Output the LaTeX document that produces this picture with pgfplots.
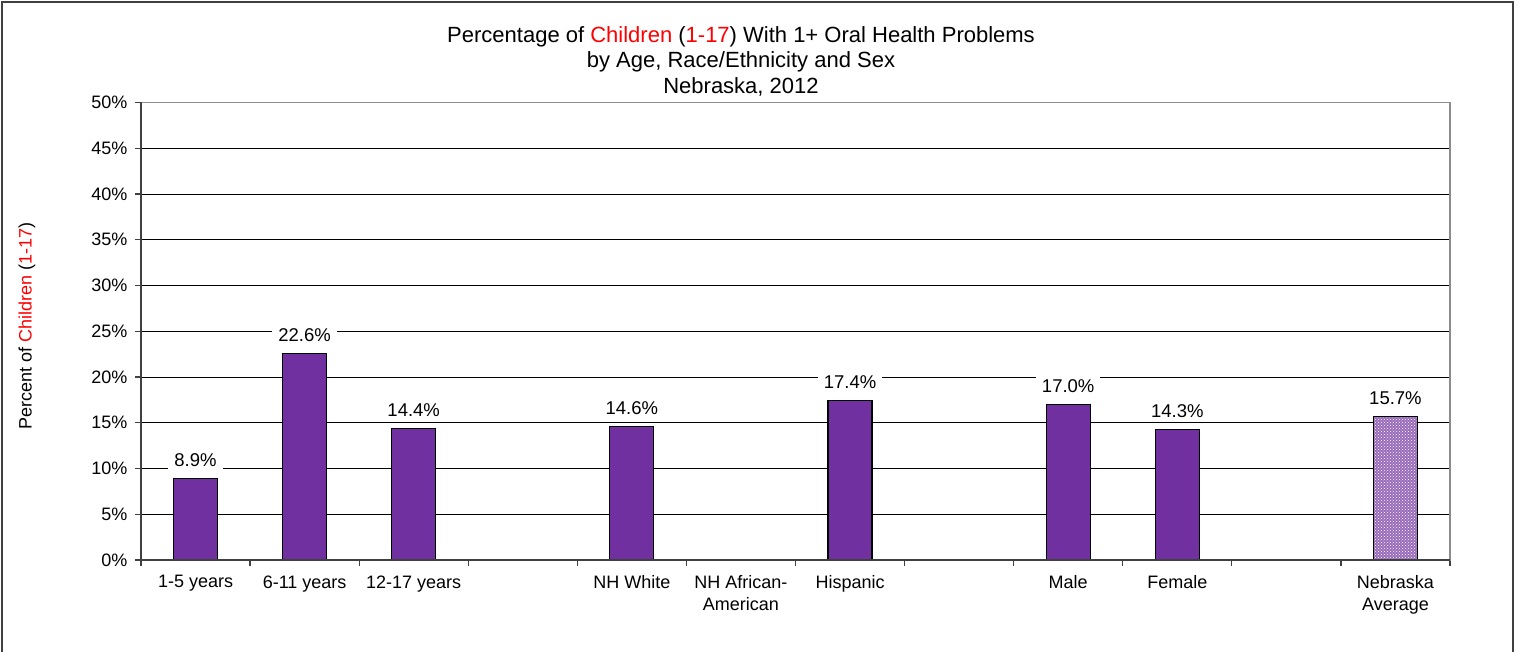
\documentclass[border=0pt]{standalone}
\usepackage{pgfplots}
\pgfplotsset{compat=1.18}
\usepackage{fontspec}
\setmainfont{Liberation Sans}
\usetikzlibrary{patterns}
\definecolor{barpurple}{HTML}{7030A0}
\definecolor{axgray}{HTML}{404040}
\begin{document}
\begin{tikzpicture}[x=1pt,y=1pt]
\begin{axis}[
  at={(141pt,92pt)}, anchor=south west,
  scale only axis, width=1309pt, height=457.5pt,
  xmin=-0.5, xmax=11.5, ymin=0, ymax=50,
  ytick={0,5,...,50},
  yticklabel={\pgfmathprintnumber{\tick}\%},
  /pgf/number format/assume math mode=true,
  xtick={0,...,11},
  xticklabels={1-5 years,6-11 years,12-17 years,{},NH White,{NH African-\\American},Hispanic,{},Male,Female,{},{Nebraska\\Average}},
  minor xtick={-0.5,0.5,...,11.5},
  major x tick style={draw=none},
  minor tick length=6pt, major tick length=6pt,
  tick align=outside, tick pos=left,
  tick style={draw=axgray, line width=1.2pt},
  ymajorgrids, grid style={draw=black, line width=0.9pt},
  axis line style={draw=gray!90, line width=1.2pt},
  ticklabel style={font=\fontsize{18}{21.5}\selectfont},
  xticklabel style={align=center, yshift=-6pt},
  yticklabel style={xshift=-4pt},
  ybar, bar width=44pt,
  nodes near coords={\pgfmathprintnumber[fixed,fixed zerofill,precision=1]{\pgfplotspointmeta}\%},
  every node near coord/.append style={font=\fontsize{18.5}{21}\selectfont, anchor=base, yshift=12pt, fill=white, inner xsep=6pt, inner ysep=3pt, text=black},
  clip=false,
]
\addplot[/pgf/bar shift=0pt, fill=barpurple, draw=black, line width=1.1pt] coordinates {(0,8.9) (1,22.6) (2,14.4) (4,14.6) (6,17.4) (8,17.0) (9,14.3)};
\addplot[/pgf/bar shift=0pt, fill=barpurple!72!white, draw=black, line width=1.1pt, postaction={pattern=crosshatch dots, pattern color=white}] coordinates {(11,15.7)};
\draw[axgray, line width=1.8pt] (rel axis cs:0,1) -- (rel axis cs:0,0) -- (rel axis cs:1,0);
\end{axis}
\node[align=center, font=\fontsize{22}{25.5}\selectfont] at (741pt,591pt) {Percentage of \textcolor{red}{Children} (\textcolor{red}{1-17}) With 1+ Oral Health Problems\\by Age, Race/Ethnicity and Sex\\Nebraska, 2012};
\node[rotate=90, font=\fontsize{18}{21}\selectfont] at (27pt,326pt) {Percent of \textcolor{red}{Children} (\textcolor{red}{1-17})};
\draw[axgray, line width=1.3pt] (2pt,-20pt) rectangle (1513pt,650pt);
\pgfresetboundingbox
\path[use as bounding box] (0,0) rectangle (1519pt,652pt);
\end{tikzpicture}
\end{document}
